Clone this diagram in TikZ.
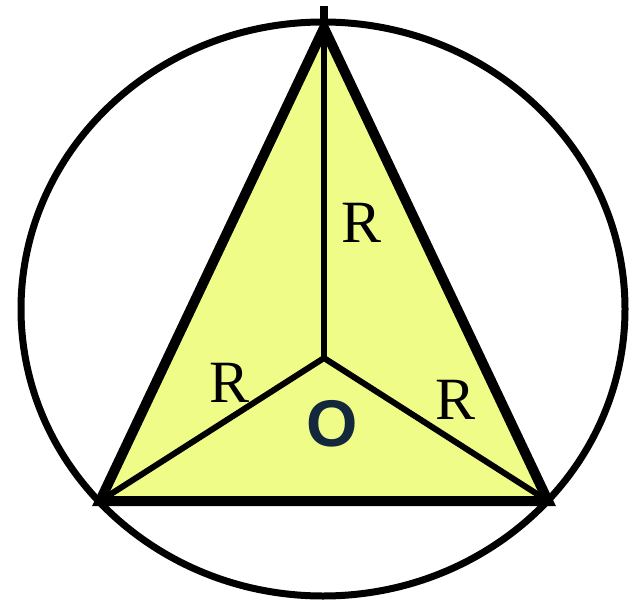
\documentclass[tikz,border=0pt]{standalone}
\usepackage{fontspec}
\setmainfont{Liberation Serif}
\newfontfamily\centresans{Liberation Sans}
\usepackage{xcolor}
\usepackage{tikz}
\usetikzlibrary{positioning,calc}
\definecolor{triyellow}{RGB}{240,252,136}
\definecolor{centrenavy}{RGB}{19,40,61}

\begin{document}
\begin{tikzpicture}[
  x=1pt, y=-1pt,
  side/.style={draw, line width=10pt, miter limit=10},
  radius line/.style={draw, line width=6pt},
  rlabel/.style={inner sep=0pt, font=\fontsize{60}{62}\selectfont},
  centre/.style={inner sep=0pt, text=centrenavy, font=\centresans\bfseries\fontsize{66}{68}\selectfont}
]
\useasboundingbox (0,0) rectangle (629,602);
\coordinate (apex) at (324,28);
\coordinate (left) at (100,501);
\coordinate (right) at (548,501);
\coordinate (O) at (324,358);
\coordinate (tick) at (324,6);

\fill[triyellow] (apex) -- (left) -- (right) -- cycle;
\draw[radius line] (O) -- (apex);
\draw[radius line] (O) -- (left);
\draw[radius line] (O) -- (right);
\draw[side] (apex) -- (left) -- (right) -- cycle;
\draw[line width=8pt] (tick) -- (apex);
\draw[line width=7pt] (323,309) ellipse [x radius=302, y radius=287];

\node[rlabel] (rtop) at (362,223) {R};
\node[rlabel] (rleft) at (230,383) {R};
\node[rlabel] (rright) at (456,400) {R};
\node[centre] (olabel) at (332,424) {O};
\end{tikzpicture}
\end{document}
